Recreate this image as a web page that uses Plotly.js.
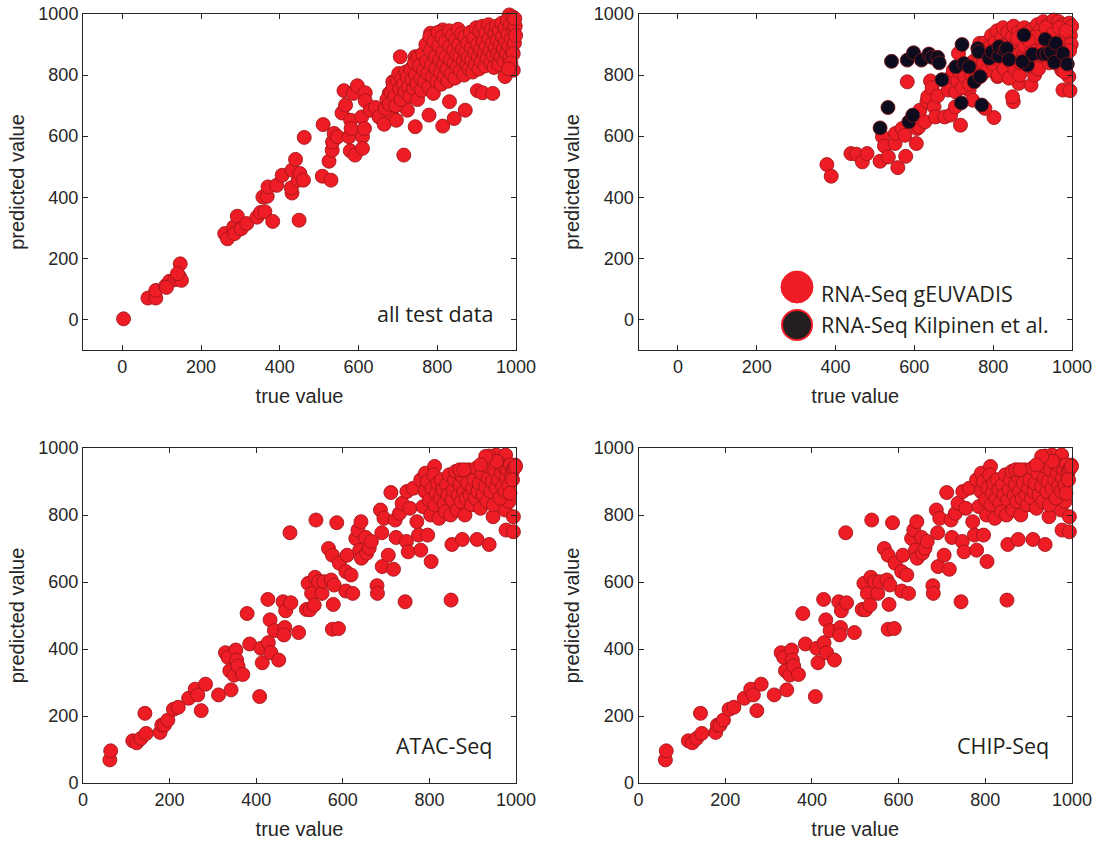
<!DOCTYPE html>
<html><head><meta charset="utf-8">
<script src="https://cdn.plot.ly/plotly-3.0.1.min.js"></script>
<style>html,body{margin:0;padding:0;background:#fff}#chart{width:1099px;height:845px}</style>
</head><body><div id="chart"></div>
<script>
// ---------- data (true value, predicted value) ----------
const tickValues = [0, 200, 400, 600, 800, 1000];
const tickLabels = ['0', '200', '400', '600', '800', '1000'];

const allTestData = [
 [3,2],[65,70],[85,70],[85,95],[110,110],[120,125],[133,130],[145,140],[150,128],[147,182],[112,105],[140,150],
 [260,281],[267,264],[283,303],[285,281],[292,338],[302,297],[316,314],
 [342,335],[351,350],[362,353],[357,401],[368,403],[370,434],[382,321],[392,439],[406,472],
 [431,414],[429,431],[431,489],[440,524],[447,456],[451,478],[460,456],[462,596],[449,325],
 [508,469],[510,638],[525,518],[530,456],[533,554],[534,581],[538,609],[547,598],
 [558,676],[563,749],[567,702],[576,598],[579,552],[580,652],[581,625],[587,740],[591,538],[597,765],[608,663],[610,598],[610,560],[615,625],[617,742],[617,716],
 [630,685],[643,694],[652,663],[665,639],[678,740],[683,674],[687,778],[696,652],[706,860],[715,538],[724,685],[744,860],[744,631],[779,669],[783,937],[814,633],[814,948],[831,713],[843,658],[871,685],[902,749],[915,742],[941,740],[972,795],[993,816],[983,997],
 [668,690],[672,720],[678,705],[682,745],[688,760],[692,730],[695,700],[698,785],[702,805],[705,755],[708,720],[710,790],
 [714,770],[718,745],[720,810],[724,795],[727,760],[730,730],[733,820],[736,785],[740,755],[742,840],[745,800],[748,770],[750,720],[752,860],
 [755,830],[758,790],[760,750],[763,870],[766,815],[768,780],[771,900],[773,845],[776,805],[778,760],[781,925],[783,880],[786,835],[788,795],[790,740],[792,910],[795,860],[797,820],[799,780],
 [802,940],[804,895],[806,850],[808,810],[810,770],[812,925],[814,875],[816,835],[818,795],[821,910],[823,860],[825,820],[827,780],[830,945],[832,895],[834,850],[836,805],[839,930],[841,880],[843,840],[845,790],[847,915],[849,865],[850,825],
 [853,950],[855,900],[857,860],[859,815],[862,935],[864,885],[866,845],[868,800],[870,925],[872,875],[875,835],[877,905],[879,860],[881,820],[884,940],[886,890],[888,850],[890,810],[893,920],[895,875],[897,835],[899,955],
 [902,900],[904,860],[906,820],[908,945],[910,885],[912,845],[915,960],[917,910],[919,870],[921,830],[923,940],[925,895],[927,855],[930,965],[932,920],[934,880],[936,840],[938,950],[940,905],[942,865],[944,825],[946,935],[948,890],[950,960],
 [952,915],[954,870],[956,835],[958,945],[960,900],[962,860],[964,970],[966,925],[968,885],[970,845],[972,955],[974,910],[976,870],[978,980],[980,935],[982,895],[984,855],[986,965],[988,920],[990,880],[992,990],[994,945],[996,905],[998,960],[999,930],[997,985],[993,870],[987,840],[981,820]
];

const gEuvadis = [
 [378,507],[389,469],[439,543],[453,541],[468,516],[480,543],[513,518],[519,598],[524,568],[534,532],[551,576],[558,497],[552,609],[569,625],[576,603],[578,534],[582,778],
 [605,576],[607,625],[612,631],[614,685],[627,647],[632,713],[634,729],[641,781],[645,759],[650,696],[654,663],[659,732],[677,663],[686,751],[692,669],[694,795],[699,816],
 [704,696],[717,636],[712,871],[721,773],[739,751],[748,718],[761,795],[802,661],[851,713],[779,691],[766,904],[775,816],[795,844],[811,795],[849,729],[865,773],[896,767],[905,800],[977,751],[995,749],[992,795],[974,816],
 [705,745],[710,780],[715,810],[722,760],[728,795],[735,830],[740,770],[745,805],[750,845],[755,785],[760,820],[765,860],[770,800],[775,840],[778,905],[782,875],[785,815],[790,855],[793,895],[796,930],
 [800,835],[803,870],[806,910],[810,945],[813,800],[816,850],[819,890],[822,925],[825,955],[828,820],[831,865],[834,905],[837,940],[840,790],[843,845],[846,885],[849,925],[852,960],[855,820],[858,860],
 [861,900],[864,940],[867,800],[870,840],[873,880],[876,920],[879,955],[882,865],[885,905],[888,940],[891,830],[894,875],[897,915],[900,950],[903,850],[906,890],[909,930],[912,965],[915,820],[918,870],
 [921,910],[924,945],[927,975],[930,860],[933,900],[936,935],[939,965],[942,840],[945,885],[948,925],[951,960],[954,980],[957,870],[960,910],[963,945],[966,975],[969,830],[972,895],[975,935],[978,965],
 [981,810],[984,870],[987,915],[990,950],[993,970],[996,930],[999,960],[998,900],[994,880],
 [808,880],[826,895],[842,870],[862,920],[880,895],[898,880],[917,945],[934,955],[952,935],[968,955],[985,945],[944,905],[925,880],[907,925],[889,915]
];

const kilpinen = [
 [513,627],[533,694],[542,845],[582,849],[586,647],[596,669],[598,873],[618,849],[637,869],[645,858],[659,858],[663,840],[670,785],
 [705,827],[721,900],[719,709],[726,838],[739,827],[752,778],[761,887],[767,795],[771,702],[763,876],[790,855],[797,876],
 [814,862],[815,893],[829,882],[834,887],[840,851],[878,931],[882,838],[887,833],[900,868],[932,917],[927,869],[936,869],[947,876],[955,842],[959,904],[977,871],[988,836],[874,844]
];

const atacSeq = [
 [62,69],[64,96],[115,126],[124,120],[134,133],[143,208],[146,148],[178,151],[182,173],[188,173],[196,188],[209,220],[220,226],[244,253],[259,280],[265,263],[273,216],[283,295],[313,263],
 [329,389],[335,375],[339,335],[342,278],[349,322],[353,397],[355,367],[358,349],[369,324],[379,506],[385,415],[408,258],[411,402],[414,359],[427,548],[428,419],[432,487],[434,389],[442,455],[452,367],
 [462,541],[466,464],[464,442],[468,514],[480,538],[478,747],[498,449],[516,518],[520,596],[524,517],[528,566],[534,531],[536,614],[538,785],[544,601],[552,566],[556,601],[567,700],[573,606],[576,680],
 [578,533],[580,591],[576,459],[590,461],[586,777],[592,656],[607,573],[610,680],[607,631],[619,621],[623,566],[630,730],[635,755],[642,780],[639,695],[643,671],[653,733],[655,686],[661,701],[666,721],
 [679,589],[680,566],[687,815],[690,747],[691,646],[695,790],[705,680],[711,867],[717,638],[721,785],[723,733],[731,805],[737,835],[744,541],[747,721],[748,870],[751,690],[755,820],[763,880],[771,780],
 [775,740],[780,695],[780,905],[791,925],[796,740],[804,661],[812,945],[850,546],[852,712],[876,727],[910,727],[938,712],[947,795],[975,815],[977,755],[994,750],[994,795],[984,840],[984,867],[954,979],[976,979],[938,976],[998,949],
 [785,825],[790,870],[795,900],[800,845],[803,800],[806,880],[810,920],[813,830],[816,865],[819,895],[822,790],[825,850],[828,905],[831,875],[834,835],[837,810],[840,890],[843,860],[846,920],[849,800],
 [852,845],[855,875],[858,905],[861,930],[864,815],[867,860],[870,890],[873,840],[876,915],[879,870],[882,800],[885,850],[888,895],[891,935],[894,860],[897,830],[900,880],[903,905],[906,850],[909,940],
 [912,870],[915,895],[918,820],[921,925],[924,860],[927,955],[930,885],[933,840],[936,910],[939,945],[942,870],[945,900],[948,830],[951,935],[954,880],[957,960],[960,905],[963,850],[966,925],[969,885],
 [972,945],[975,870],[978,910],[981,935],[984,890],[987,950],[990,920],[993,935],[996,940],[999,945],[992,905],[986,865],[955,960],[930,975],[918,950],[870,935],[880,935]
];
// the CHIP-Seq panel shows the same points as the ATAC-Seq panel
const chipSeq = atacSeq;

const panelLabels = ['all test data', 'ATAC-Seq', 'CHIP-Seq'];
const legendLabels = ['RNA-Seq gEUVADIS', 'RNA-Seq Kilpinen et al.'];
const axisTitleX = 'true value';
const axisTitleY = 'predicted value';

// ---------- styling ----------
const W = 1099, H = 845;
const RED = '#ee1c24', RED_EDGE = '#a3161b';
const DARK = '#0c0c1e', DARK_EDGE = '#7a1418';
const INK = '#262626';
const tickFont = {family: 'Liberation Sans, Arial, sans-serif', size: 18, color: INK};
const titleFont = {family: 'Liberation Sans, Arial, sans-serif', size: 20, color: INK};
const textFont = {family: 'Open Sans, sans-serif', size: 21.5, color: '#231f20'};

const px = v => v / W;
const py = v => 1 - v / H;

function xs(d) { return d.map(p => p[0]); }
function ys(d) { return d.map(p => p[1]); }

function scat(d, xa, ya, fill, edge, name) {
  return {type: 'scatter', mode: 'markers', x: xs(d), y: ys(d), xaxis: xa, yaxis: ya,
    name: name, showlegend: false, hoverinfo: 'skip', cliponaxis: false,
    marker: {size: 14, color: fill, line: {color: edge, width: 0.9}}};
}

const traces = [
  scat(allTestData, 'x', 'y', RED, RED_EDGE, panelLabels[0]),
  scat(gEuvadis, 'x2', 'y2', RED, RED_EDGE, legendLabels[0]),
  scat(kilpinen, 'x2', 'y2', DARK, DARK_EDGE, legendLabels[1]),
  scat(atacSeq, 'x3', 'y3', RED, RED_EDGE, panelLabels[1]),
  scat(chipSeq, 'x4', 'y4', RED, RED_EDGE, panelLabels[2])
];

function axis(domain, range, anchor, title, standoff) {
  return {domain: domain, range: range, anchor: anchor,
    showline: true, linecolor: INK, linewidth: 1, mirror: 'allticks',
    ticks: 'inside', ticklen: 5, tickwidth: 1, tickcolor: INK,
    showgrid: false, zeroline: false, automargin: false, fixedrange: true,
    tickmode: 'array', tickvals: tickValues, ticktext: tickLabels, tickfont: tickFont,
    title: {text: title, font: titleFont, standoff: standoff}};
}

const colL = [px(83), px(516)], colR = [px(638.5), px(1072)];
const rowT = [py(350), py(14)], rowB = [py(783), py(448)];

const layout = {
  width: W, height: H, margin: {l: 0, r: 0, t: 0, b: 0},
  paper_bgcolor: '#fff', plot_bgcolor: '#fff', showlegend: false,
  xaxis: axis(colL, [-100, 1000], 'y', axisTitleX, 13),
  yaxis: axis(rowT, [-100, 1000], 'x', axisTitleY, 8),
  xaxis2: axis(colR, [-100, 1000], 'y2', axisTitleX, 13),
  yaxis2: axis(rowT, [-100, 1000], 'x2', axisTitleY, 8),
  xaxis3: axis(colL, [0, 1000], 'y3', axisTitleX, 13),
  yaxis3: axis(rowB, [0, 1000], 'x3', axisTitleY, 8),
  xaxis4: axis(colR, [0, 1000], 'y4', axisTitleX, 13),
  yaxis4: axis(rowB, [0, 1000], 'x4', axisTitleY, 8),
  annotations: [
    {text: panelLabels[0], xref: 'paper', yref: 'paper', x: px(495), y: py(313), xanchor: 'right', yanchor: 'middle', showarrow: false, font: textFont},
    {text: panelLabels[1], xref: 'paper', yref: 'paper', x: px(495), y: py(745), xanchor: 'right', yanchor: 'middle', showarrow: false, font: textFont},
    {text: panelLabels[2], xref: 'paper', yref: 'paper', x: px(1051), y: py(745), xanchor: 'right', yanchor: 'middle', showarrow: false, font: textFont},
    {text: legendLabels[0], xref: 'paper', yref: 'paper', x: px(819), y: py(293), xanchor: 'left', yanchor: 'middle', showarrow: false, font: textFont},
    {text: legendLabels[1], xref: 'paper', yref: 'paper', x: px(819), y: py(324), xanchor: 'left', yanchor: 'middle', showarrow: false, font: textFont}
  ],
  shapes: [
    {type: 'circle', xref: 'paper', yref: 'paper', xsizemode: 'pixel', ysizemode: 'pixel',
     xanchor: px(797), yanchor: py(287), x0: -16, x1: 16, y0: -16, y1: 16,
     fillcolor: RED, line: {color: RED, width: 1}},
    {type: 'circle', xref: 'paper', yref: 'paper', xsizemode: 'pixel', ysizemode: 'pixel',
     xanchor: px(797), yanchor: py(325), x0: -15, x1: 15, y0: -15, y1: 15,
     fillcolor: '#231f20', line: {color: RED, width: 2}}
  ]
};

Plotly.newPlot('chart', traces, layout, {staticPlot: true, displayModeBar: false});
</script>
</body></html>
